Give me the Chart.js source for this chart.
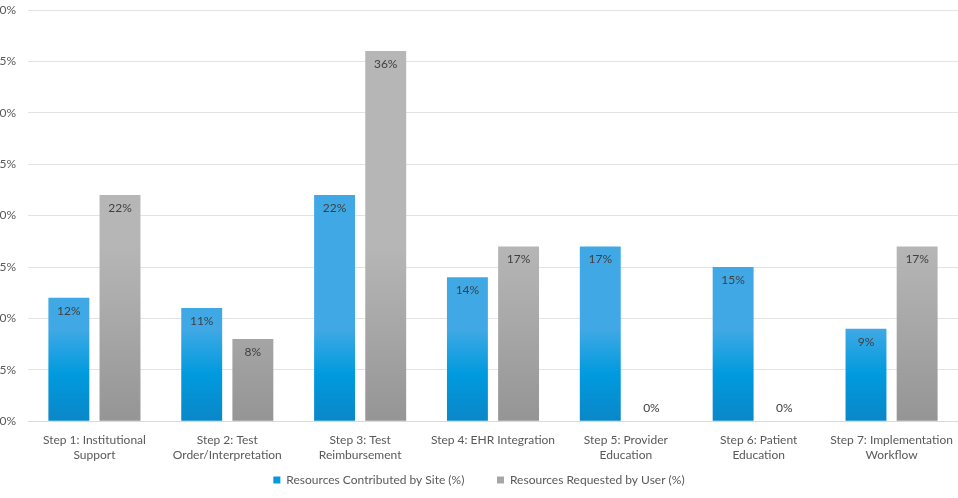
<!DOCTYPE html>
<html>
<head>
<meta charset="utf-8">
<script src="https://cdn.jsdelivr.net/npm/chart.js"></script>
<style>
  html, body { margin: 0; padding: 0; background: #fff; overflow: hidden; }
  #wrap { position: absolute; left: 0; top: 0; width: 958px; height: 498px; }
</style>
</head>
<body>
<div id="wrap"><canvas id="barChart"></canvas></div>
<script>
const categories = [
  ['Step 1: Institutional', 'Support'],
  ['Step 2: Test', 'Order/Interpretation'],
  ['Step 3: Test', 'Reimbursement'],
  'Step 4: EHR Integration',
  ['Step 5: Provider', 'Education'],
  ['Step 6: Patient', 'Education'],
  ['Step 7: Implementation', 'Workflow']
];
const contributedBySite = [12, 11, 22, 14, 17, 15, 9];
const requestedByUser = [22, 8, 36, 17, 0, 0, 17];
const yTicks = [0, 5, 10, 15, 20, 25, 30, 35, 40];

const FONT = 'Lato, "Open Sans", sans-serif';
const TEXT = '#595959';

// Excel-style vertical gradient on each bar
const barGradients = {
  id: 'barGradients',
  beforeDatasetsDraw(chart) {
    const ctx = chart.ctx;
    chart.data.datasets.forEach((ds, i) => {
      chart.getDatasetMeta(i).data.forEach(bar => {
        const top = Math.min(bar.y, bar.base);
        const bottom = Math.max(bar.y, bar.base);
        if (bottom - top < 1) return;
        const g = ctx.createLinearGradient(0, top, 0, bottom);
        if (i === 0) {
          g.addColorStop(0, '#40a9e5');
          g.addColorStop(0.5, '#009ade');
          g.addColorStop(1, '#0a87c8');
        } else {
          g.addColorStop(0, '#b6b6b6');
          g.addColorStop(0.5, '#a6a6a6');
          g.addColorStop(1, '#959595');
        }
        bar.options.backgroundColor = g;
      });
    });
  }
};

const valueLabels = {
  id: 'valueLabels',
  afterDatasetsDraw(chart) {
    const ctx = chart.ctx;
    ctx.save();
    ctx.font = '12px ' + FONT;
    ctx.fillStyle = '#404040';
    ctx.textAlign = 'center';
    ctx.textBaseline = 'middle';
    chart.data.datasets.forEach((ds, i) => {
      chart.getDatasetMeta(i).data.forEach((bar, j) => {
        const v = ds.data[j];
        const y = v === 0 ? bar.base - 13 : bar.y + 13;
        ctx.fillText(v + '%', bar.x, y);
      });
    });
    ctx.restore();
  }
};

new Chart(document.getElementById('barChart').getContext('2d'), {
  type: 'bar',
  data: {
    labels: categories,
    datasets: [{
      // trailing spaces widen the gap between the two legend items
      label: 'Resources Contributed by Site (%)        ',
      data: contributedBySite,
      backgroundColor: '#009ade',
      borderWidth: 0,
      categoryPercentage: 0.77,
      barPercentage: 0.8
    }, {
      label: 'Resources Requested by User (%)',
      data: requestedByUser,
      backgroundColor: '#a6a6a6',
      borderWidth: 0,
      categoryPercentage: 0.77,
      barPercentage: 0.8
    }]
  },
  options: {
    responsive: true,
    maintainAspectRatio: false,
    animation: false,
    layout: { padding: { top: 10, right: 0, bottom: 2, left: 0 } },
    plugins: {
      legend: {
        position: 'bottom',
        labels: {
          boxWidth: 7,
          boxHeight: 7,
          color: TEXT,
          font: { family: FONT, size: 12 },
          padding: 8
        }
      },
      tooltip: { enabled: false }
    },
    scales: {
      x: {
        grid: { display: false },
        border: { color: '#d9d9d9' },
        ticks: {
          color: TEXT,
          font: { family: FONT, size: 12 },
          maxRotation: 0,
          autoSkip: false,
          padding: 4
        }
      },
      y: {
        min: 0,
        max: 40,
        afterBuildTicks(scale) {
          scale.ticks = yTicks.map(v => ({ value: v }));
        },
        // narrow axis box: the labels run past the left edge and get cut, as in the original
        afterFit(scale) {
          scale.width = 28;
          scale.paddingTop = 0;
          scale.paddingBottom = 0;
        },
        grid: { color: '#e3e3e3', drawTicks: false },
        border: { display: false },
        ticks: {
          color: TEXT,
          font: { family: FONT, size: 12 },
          padding: 12,
          callback: v => v + '%'
        }
      }
    }
  },
  plugins: [barGradients, valueLabels]
});
</script>
</body>
</html>
